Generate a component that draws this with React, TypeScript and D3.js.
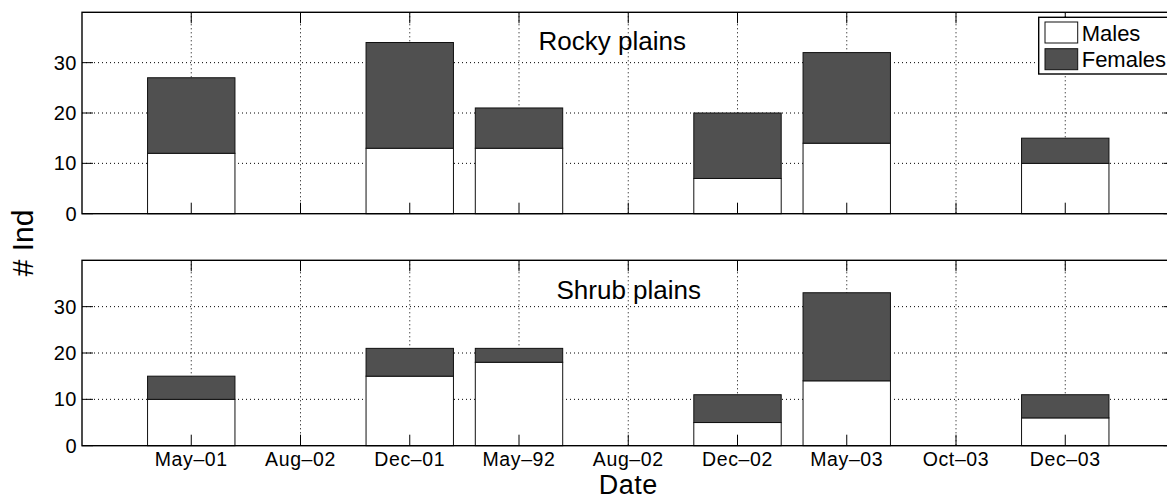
import React from "react";
import * as d3 from "d3";

const categories = ["May–01", "Aug–02", "Dec–01", "May–92", "Aug–02", "Dec–02", "May–03", "Oct–03", "Dec–03"];
const rockyMales = [12, 0, 13, 13, 0, 7, 14, 0, 10];
const rockyFemales = [15, 0, 21, 8, 0, 13, 18, 0, 5];
const shrubMales = [10, 0, 15, 18, 0, 5, 14, 0, 6];
const shrubFemales = [5, 0, 6, 3, 0, 6, 19, 0, 5];
const yTicks = [0, 10, 20, 30];
const seriesNames = ["Males", "Females"];
const seriesColors = ["#ffffff", "#505050"];

const W = 1167;
const H = 500;
const FONT = "'Liberation Sans', Arial, Helvetica, sans-serif";
const x = d3.scaleLinear().domain([0, 10]).range([82, 1174.5]);
const barW = (x(1) - x(0)) * 0.8;
const TICK = 11;

function Panel({ top, bottom, males, females, title, titleX, titleY, showX, legend }: any) {
  const y = d3.scaleLinear().domain([0, 40]).range([bottom, top]);
  const x0 = x(0);
  const x1 = x(10);
  const stack = d3.stack<any>().keys(["m", "f"])(categories.map((c, i) => ({ i, m: males[i], f: females[i] })));
  return (
    <g>
      {yTicks.filter((t) => t > 0).map((t) => (
        <line key={"gy" + t} x1={x0} x2={x1} y1={y(t)} y2={y(t)} stroke="#000" strokeWidth={1} strokeDasharray="1,3" />
      ))}
      {categories.map((c, i) => (
        <line key={"gx" + i} x1={x(i + 1)} x2={x(i + 1)} y1={top} y2={bottom} stroke="#000" strokeWidth={1} strokeDasharray="1,3" />
      ))}
      {stack.map((layer, li) =>
        layer.map((d, i) =>
          d[1] - d[0] > 0 ? (
            <rect
              key={li + "-" + i}
              x={x(i + 1) - barW / 2}
              y={y(d[1])}
              width={barW}
              height={y(d[0]) - y(d[1])}
              fill={seriesColors[li]}
              stroke="#111"
              strokeWidth={1}
            />
          ) : null
        )
      )}
      {categories.map((c, i) => (
        <g key={"tx" + i}>
          <line x1={x(i + 1)} x2={x(i + 1)} y1={bottom} y2={bottom - TICK} stroke="#000" strokeWidth={1} />
          <line x1={x(i + 1)} x2={x(i + 1)} y1={top} y2={top + TICK} stroke="#000" strokeWidth={1} />
        </g>
      ))}
      {yTicks.map((t) => (
        <g key={"ty" + t}>
          <line x1={x0} x2={x0 + TICK} y1={y(t)} y2={y(t)} stroke="#000" strokeWidth={1} />
          <line x1={x1} x2={x1 - TICK} y1={y(t)} y2={y(t)} stroke="#000" strokeWidth={1} />
          <text x={x0 - 5} y={y(t) + 7} textAnchor="end" fontSize={20} fontFamily={FONT} letterSpacing={0.5} fill="#000">
            {t}
          </text>
        </g>
      ))}
      <rect x={x0} y={top} width={x1 - x0} height={bottom - top} fill="none" stroke="#000" strokeWidth={1.4} />
      <text x={titleX} y={titleY} fontSize={26} fontFamily={FONT} fill="#000">
        {title}
      </text>
      {showX &&
        categories.map((c, i) => (
          <text key={"lx" + i} x={x(i + 1)} y={bottom + 20} textAnchor="middle" fontSize={19.5} letterSpacing={0.6} fontFamily={FONT} fill="#000">
            {c}
          </text>
        ))}
      {legend && (
        <g>
          <rect x={1038.7} y={17.3} width={160} height={56.7} fill="#fff" stroke="#000" strokeWidth={1.4} />
          {seriesNames.map((s, i) => (
            <g key={s}>
              <rect x={1045} y={22 + i * 26.7} width={32.7} height={21} fill={seriesColors[i]} stroke="#111" strokeWidth={1} />
              <text x={1081.7} y={41.3 + i * 25.4} fontSize={22} fontFamily={FONT} fill="#000">
                {s}
              </text>
            </g>
          ))}
        </g>
      )}
    </g>
  );
}

export default function App() {
  return (
    <svg width={W} height={H} style={{ position: "absolute", left: 0, top: 0, background: "#fff" }}>
      <rect x={0} y={0} width={W} height={H} fill="#fff" />
      <Panel top={12.3} bottom={213.7} males={rockyMales} females={rockyFemales} title="Rocky plains" titleX={538.6} titleY={50.2} showX={false} legend={true} />
      <Panel top={260.3} bottom={445.7} males={shrubMales} females={shrubFemales} title="Shrub plains" titleX={556.5} titleY={298.5} showX={true} legend={false} />
      <text transform="translate(33.3,243) rotate(-90)" textAnchor="middle" fontSize={30} fontFamily={FONT} fill="#000">
        # Ind
      </text>
      <text x={628.3} y={494.2} textAnchor="middle" fontSize={27} letterSpacing={0.5} fontFamily={FONT} fill="#000">
        Date
      </text>
    </svg>
  );
}
